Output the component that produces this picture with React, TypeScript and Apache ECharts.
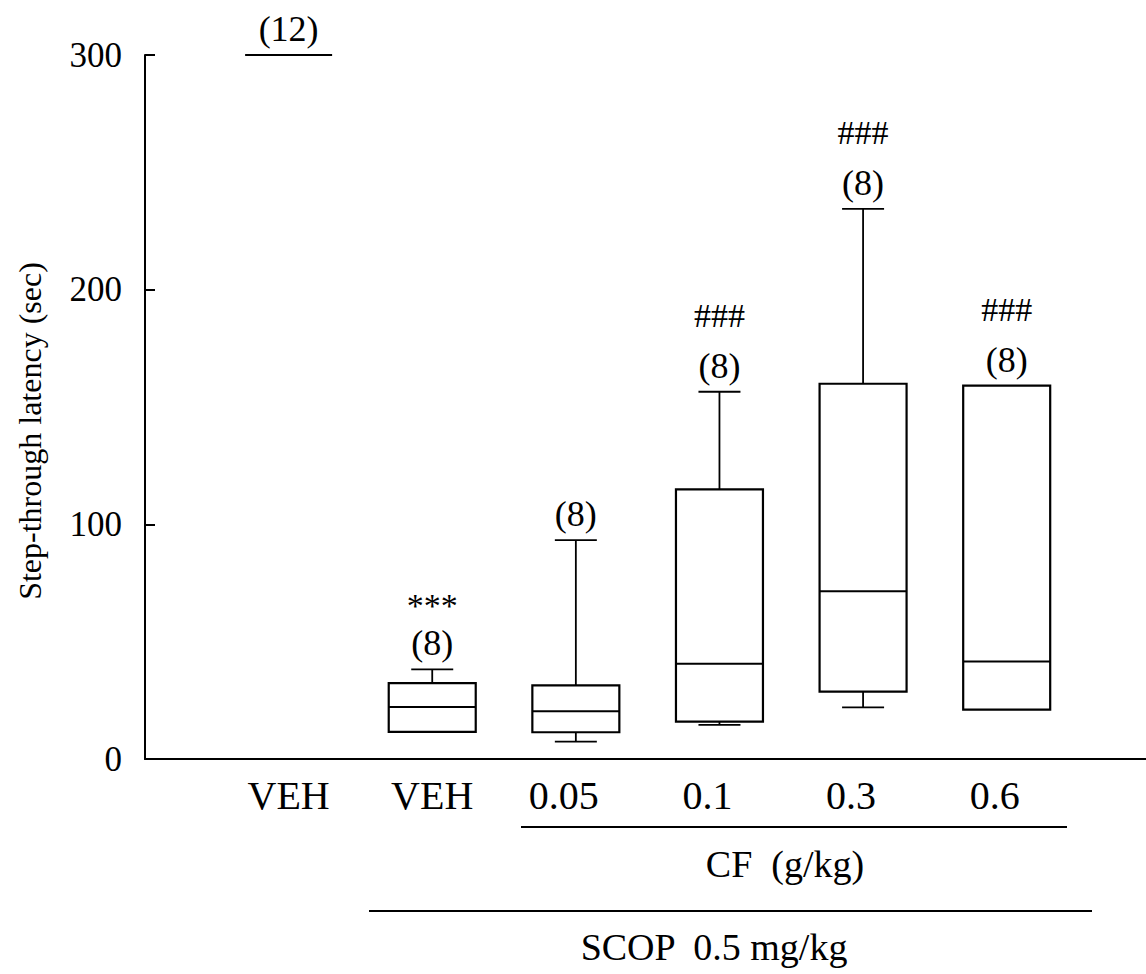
import React, { useEffect, useRef } from "react";
import * as echarts from "echarts";

// Group labels along the x axis
const categories = ["VEH", "VEH", "0.05", "0.1", "0.3", "0.6"];
// Box-and-whisker statistics per group (sec)
const minValues = [300, 11.6, 7.4, 14.5, 22.0, 21.0];
const q1Values = [300, 11.6, 11.4, 15.9, 28.7, 21.0];
const medianValues = [300, 22.2, 20.3, 40.6, 71.5, 41.6];
const q3Values = [300, 32.3, 31.4, 114.9, 159.9, 159.1];
const maxValues = [300, 38.2, 93.3, 156.5, 234.4, 159.1];
// Sample sizes and significance marks
const sampleSizes = [12, 8, 8, 8, 8, 8];
const significance = ["", "***", "", "###", "###", "###"];
const yTicks = [0, 100, 200, 300];

const FONT = "'Liberation Serif', 'Times New Roman', 'DejaVu Serif', serif";

const BOX_HALF = 43.5;
const CAP_HALF = 21;

export default function App() {
  const ref = useRef<HTMLDivElement>(null);

  useEffect(() => {
    if (!ref.current) return;
    const chart = echarts.init(ref.current, null, { renderer: "svg" });

    const data = categories.map((_, i) => [
      i + 1,
      minValues[i],
      q1Values[i],
      medianValues[i],
      q3Values[i],
      maxValues[i],
    ]);

    const renderItem = (params: any, api: any) => {
      const i = params.dataIndex;
      const x = api.value(0);
      const [cx, yMin] = api.coord([x, api.value(1)]);
      const yQ1 = api.coord([x, api.value(2)])[1];
      const yMed = api.coord([x, api.value(3)])[1];
      const yQ3 = api.coord([x, api.value(4)])[1];
      const yMax = api.coord([x, api.value(5)])[1];
      const stroke = { stroke: "#000", lineWidth: 2, fill: "none" };
      const thin = { stroke: "#000", lineWidth: 1.8, fill: "none" };
      const children: any[] = [];

      if (yQ1 - yQ3 > 0.5) {
        children.push({
          type: "rect",
          shape: { x: cx - BOX_HALF, y: yQ3, width: BOX_HALF * 2, height: yQ1 - yQ3 },
          style: { fill: "#fff", stroke: "#000", lineWidth: 2.2 },
        });
      }
      children.push({
        type: "line",
        shape: { x1: cx - BOX_HALF, y1: yMed, x2: cx + BOX_HALF, y2: yMed },
        style: stroke,
      });
      if (yQ3 - yMax > 0.5) {
        children.push(
          { type: "line", shape: { x1: cx, y1: yQ3, x2: cx, y2: yMax }, style: thin },
          { type: "line", shape: { x1: cx - CAP_HALF, y1: yMax, x2: cx + CAP_HALF, y2: yMax }, style: thin }
        );
      }
      if (yMin - yQ1 > 0.5) {
        children.push(
          { type: "line", shape: { x1: cx, y1: yQ1, x2: cx, y2: yMin }, style: thin },
          { type: "line", shape: { x1: cx - CAP_HALF, y1: yMin, x2: cx + CAP_HALF, y2: yMin }, style: thin }
        );
      }

      const nY = yMax - 26;
      children.push({
        type: "text",
        x: cx,
        y: nY,
        style: {
          text: `(${sampleSizes[i]})`,
          fontSize: 36,
          fontFamily: FONT,
          fill: "#000",
          align: "center",
          textAlign: "center",
          verticalAlign: "middle",
          textVerticalAlign: "middle",
        },
      });
      const sig = significance[i];
      if (sig) {
        const isStar = sig.startsWith("*");
        const gap = isStar ? 38 : 50;
        children.push({
          type: "text",
          x: cx,
          y: nY - gap,
          style: {
            text: sig,
            fontSize: 34,
            fontFamily: FONT,
            fill: "#000",
            align: "center",
            textAlign: "center",
            verticalAlign: "middle",
            textVerticalAlign: "middle",
          },
        });
      }
      return { type: "group", children };
    };

    const labelStyle = { fontSize: 40, fontFamily: FONT, color: "#000" };

    chart.setOption({
      animation: false,
      grid: {
        left: 145,
        right: 0,
        top: 55,
        bottom: 215,
        containLabel: false,
        outerBoundsMode: "none",
      },
      xAxis: {
        type: "value",
        min: 0,
        max: 6.97,
        interval: 1,
        axisLine: { show: true, onZero: false, lineStyle: { color: "#000", width: 2 } },
        axisTick: { show: false },
        splitLine: { show: false },
        axisLabel: {
          showMinLabel: false,
          showMaxLabel: false,
          margin: 16,
          ...labelStyle,
          formatter: (v: number) => {
            const name = categories[Math.round(v) - 1];
            if (!name) return "";
            return name === "VEH" ? `{v|${name}}` : `{d|${name}}`;
          },
          rich: {
            v: { ...labelStyle },
            d: { ...labelStyle, padding: [0, 24, 0, 0] },
          },
        },
      },
      yAxis: {
        type: "value",
        min: yTicks[0],
        max: yTicks[yTicks.length - 1],
        interval: 100,
        axisLine: { show: true, lineStyle: { color: "#000", width: 2 } },
        axisTick: { show: true, inside: true, length: 10, lineStyle: { color: "#000", width: 2 } },
        splitLine: { show: false },
        axisLabel: { margin: 23, fontSize: 35, fontFamily: FONT, color: "#000" },
      },
      graphic: [
        {
          type: "text",
          x: 30,
          y: 431,
          rotation: Math.PI / 2,
          style: {
            text: "Step-through latency (sec)",
            fontSize: 32,
            fontFamily: FONT,
            fill: "#000",
            align: "center",
            textAlign: "center",
            verticalAlign: "middle",
            textVerticalAlign: "middle",
          },
        },
        {
          type: "line",
          shape: { x1: 521, y1: 827, x2: 1067, y2: 827 },
          style: { stroke: "#000", lineWidth: 2 },
        },
        {
          type: "text",
          x: 785,
          y: 864,
          style: {
            text: "CF  (g/kg)",
            fontSize: 38,
            fontFamily: FONT,
            fill: "#000",
            align: "center",
            textAlign: "center",
            verticalAlign: "middle",
            textVerticalAlign: "middle",
          },
        },
        {
          type: "line",
          shape: { x1: 369, y1: 911, x2: 1092, y2: 911 },
          style: { stroke: "#000", lineWidth: 2 },
        },
        {
          type: "text",
          x: 714,
          y: 947,
          style: {
            text: "SCOP  0.5 mg/kg",
            fontSize: 38,
            fontFamily: FONT,
            fill: "#000",
            align: "center",
            textAlign: "center",
            verticalAlign: "middle",
            textVerticalAlign: "middle",
          },
        },
      ],
      series: [
        {
          type: "custom",
          clip: false,
          renderItem,
          encode: { x: 0, y: [1, 2, 3, 4, 5] },
          data,
        },
      ],
    });

    return () => chart.dispose();
  }, []);

  return (
    <div
      ref={ref}
      style={{ position: "absolute", left: 0, top: 0, width: 1146, height: 974, background: "#fff" }}
    />
  );
}
